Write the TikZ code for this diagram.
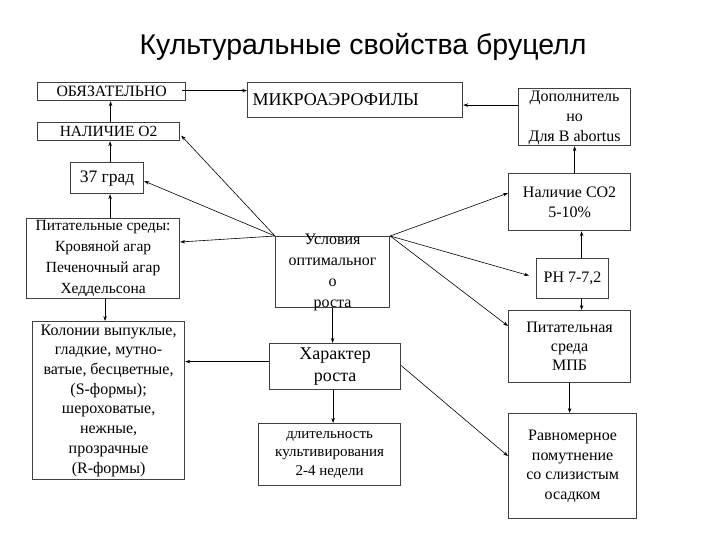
\documentclass[tikz,border=0pt]{standalone}
\usepackage{fontspec}
\setmainfont{Liberation Serif}
\newfontfamily\titlefont{Liberation Sans}
\usetikzlibrary{arrows.meta,calc}
\definecolor{boxgray}{HTML}{404040}
\newcommand{\fs}[2]{\fontsize{#1}{#2}\selectfont}
\tikzset{
  box/.style={draw=boxgray, line width=1.2pt, inner sep=0pt, align=center, anchor=north west},
  lbl/.style={inner sep=0pt, align=center},
  arr/.style={-{Stealth[length=5pt,width=3.5pt]}, line width=0.6pt, draw=black}
}
\begin{document}
\begin{tikzpicture}[x=1pt,y=-1pt]
\useasboundingbox (0,0) rectangle (720,540);
\node[inner sep=0pt] (title) at (363,47) {\titlefont\fs{28.5}{32}Культуральные свойства бруцелл};

\node[box, minimum width=148pt, minimum height=18pt, font=\fs{15.8}{18}] (obz) at (37,82) {ОБЯЗАТЕЛЬНО};
\node[box, minimum width=142pt, minimum height=18pt, font=\fs{15.5}{18}] (nal) at (37,122) {НАЛИЧИЕ О2};
\node[box, minimum width=73pt, minimum height=31pt, font=\fs{17.5}{21}] (t37) at (70,162) {37 град};
\node[box, minimum width=153pt, minimum height=80pt, font=\fs{15.5}{21}] (pit) at (26,218) {Питательные среды:\\Кровяной агар\\Печеночный агар\\Хеддельсона};
\node[box, minimum width=114pt, minimum height=71pt] (usl) at (275,236) {};
\node[lbl, font=\fs{16}{21}] (usltxt) at (usl.center) {Условия\\оптимальног\\о\\роста};
\node[box, minimum height=35pt, text width=205pt, inner xsep=5pt, align=left, font=\fs{18}{21}] (mik) at (247,82) {МИКРОАЭРОФИЛЫ};
\node[box, minimum width=112pt, minimum height=57pt] (dop) at (518,88) {};
\node[lbl, font=\fs{16}{20}] (doptxt) at ($(dop.center)+(0,1)$) {Дополнитель\\но\\Для B abortus};
\node[box, minimum width=122pt, minimum height=57pt, font=\fs{16}{20}] (co2) at (508,173) {Наличие СО2\\5-10\%};
\node[box, minimum width=72pt, minimum height=40pt, font=\fs{16}{20}] (ph) at (536,258) {РН 7-7,2};
\node[box, minimum width=122pt, minimum height=72pt, font=\fs{16}{19}] (mpb) at (508,310) {Питательная\\среда\\МПБ};
\node[box, minimum width=152pt, minimum height=158pt, font=\fs{16}{19.7}] (kol) at (32,321) {Колонии выпуклые,\\гладкие, мутно-\\ватые, бесцветные,\\(S-формы);\\шероховатые,\\нежные,\\прозрачные\\(R-формы)};
\node[box, minimum width=131pt, minimum height=46pt, font=\fs{18}{22}] (har) at (269,343) {Характер\\роста};
\node[box, minimum width=142pt, minimum height=62pt, font=\fs{15}{18.5}] (dlit) at (258,423) {длительность\\культивирования\\2-4 недели};
\node[box, minimum width=128pt, minimum height=105pt, font=\fs{16}{19.5}] (rav) at (508,413) {Равномерное\\помутнение\\со слизистым\\осадком};

% connectors
\draw[arr] ($(obz.east)+(-4,-1)$) -- ($(obz.east -| mik.west)+(0,-1)$);
\draw[arr] ($(nal.north)+(2,0)$) -- ($(nal.north |- obz.south)+(2,0)$);
\draw[arr] ($(t37.north)+(3,0)$) -- ($(t37.north |- nal.south)+(3,0)$);
\draw[arr] ($(t37.south |- pit.north)+(3,0)$) -- ($(t37.south)+(3,0)$);
\draw[arr] ($(pit.south)+(2,0)$) -- ($(pit.south |- kol.north)+(2,0)$);
\draw[arr] (usl.north west) -- ($(t37.east)+(0,3)$);
\draw[arr] (usl.north west) -- ($(nal.east)+(1,4)$);
\draw[arr] (usl.north west) -- ($(pit.north east)+(0,24)$);
\draw[arr] (usl.north east) -- ($(co2.west)+(0,-9)$);
\draw[arr] (usl.north east) -- ($(ph.west)+(-7,-3)$);
\draw[arr] (usl.north east) -- ($(mpb.north west)+(0,16)$);
\draw[arr] (usl.south) -- (usl.south |- har.north);
\draw[arr] ($(har.west)+(0,-5)$) -- ($(har.west -| kol.east)+(0,-5)$);
\draw[arr] ($(har.south)+(-2,0)$) -- ($(har.south |- dlit.north)+(-2,0)$);
\draw[arr] ($(har.east)+(0,-1)$) -- ($(rav.west)+(0,-10)$);
\draw[arr] ($(dop.west)+(0,-12)$) -- ($(dop.west -| mik.east)+(0,-12)$);
\draw[arr] (dop.south |- co2.north) -- (dop.south);
\draw[arr] ($(ph.north)+(9,0)$) -- ($(ph.north |- co2.south)+(9,0)$);
\draw[arr] ($(ph.south)+(9,0)$) -- ($(ph.south |- mpb.north)+(9,0)$);
\draw[arr] (mpb.south) -- (mpb.south |- rav.north);
\end{tikzpicture}
\end{document}
